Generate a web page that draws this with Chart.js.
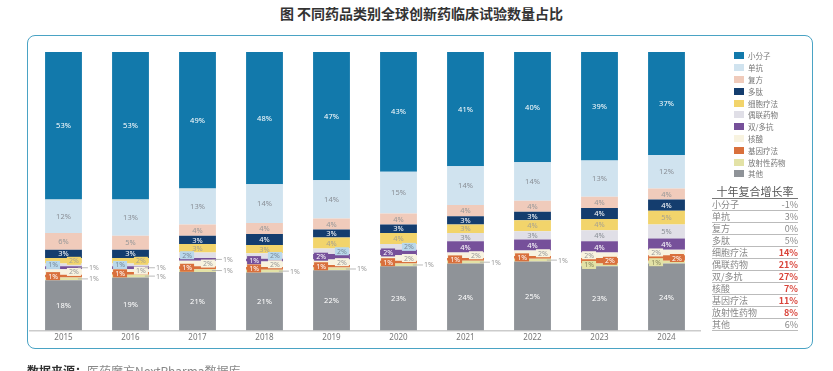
<!DOCTYPE html>
<html>
<head>
<meta charset="utf-8">
<script src="https://cdn.jsdelivr.net/npm/chart.js@4/dist/chart.umd.min.js"></script>
<style>
  html, body { margin: 0; padding: 0; background: #fff; }
  body { font-family: "Noto Sans CJK SC", "Noto Sans", sans-serif; }
  #wrap { position: relative; width: 833px; height: 371px; overflow: hidden; }
  #title { position: absolute; left: 0; top: 3px; width: 843px; text-align: center;
           font-size: 14px; font-weight: bold; color: #333; }
  #frame { position: absolute; left: 27px; top: 35px; width: 786px; height: 314px;
           border: 1.5px solid #4aa3c4; border-radius: 8px; box-sizing: border-box; }
  #chartBox { position: absolute; left: 0; top: 0; width: 833px; height: 371px; }
  #legend { position: absolute; left: 734px; top: 50px; }
  .lg-row { height: 11.8px; display: flex; align-items: center; font-size: 7.5px; color: #777; }
  .lg-sw { width: 10px; height: 7px; margin-right: 4px; }
  #cagr { position: absolute; left: 712px; top: 185px; width: 86px; border-collapse: collapse; }
  #cagr th { font-size: 11px; font-weight: normal; color: #555; padding: 0; line-height: 13px;
             border-bottom: 1.5px solid #777; }
  #cagr td { font-size: 9px; color: #888; padding: 0; line-height: 11px;
             border-bottom: 1px solid #bbb; }
  #cagr td.v { text-align: right; }
  #cagr td.hot { color: #d9443a; font-weight: bold; }
  #source { position: absolute; left: 27px; top: 362px; font-size: 12px; color: #888; white-space: nowrap; }
  #source b { color: #333; }
</style>
</head>
<body>
<div id="wrap">
  <div id="title">图 不同药品类别全球创新药临床试验数量占比</div>
  <div id="frame"></div>
  <div id="chartBox"><canvas id="chart"></canvas></div>
  <div id="legend"></div>
  <table id="cagr"></table>
  <div id="source"><b>数据来源：</b>医药魔方NextPharma数据库</div>
</div>
<script>
// Years on the x axis
const years = ['2015', '2016', '2017', '2018', '2019', '2020', '2021', '2022', '2023', '2024'];

// Share of trials (%) per drug class
const smallMolecule = [53, 53, 49, 48, 47, 43, 41, 40, 39, 37];
const antibody      = [12, 13, 13, 14, 14, 15, 14, 14, 13, 12];
const combination   = [6, 5, 4, 4, 4, 4, 4, 4, 4, 4];
const peptide       = [3, 3, 3, 4, 3, 3, 3, 3, 4, 4];
const cellTherapy   = [2, 2, 3, 3, 4, 4, 3, 4, 4, 5];
const conjugate     = [1, 1, 2, 2, 2, 2, 3, 3, 4, 5];
const bispecific    = [1, 1, 1, 1, 2, 2, 4, 4, 4, 4];
const nucleicAcid   = [2, 1, 2, 2, 2, 2, 2, 2, 2, 2];
const geneTherapy   = [1, 1, 1, 1, 1, 1, 1, 1, 2, 2];
const radioDrug     = [1, 1, 1, 1, 1, 1, 1, 1, 1, 1];
const others        = [18, 19, 21, 21, 22, 23, 24, 25, 23, 24];

// Ten-year compound growth table
const cagrLabels = ['小分子', '单抗', '复方', '多肽', '细胞疗法', '偶联药物', '双/多抗', '核酸', '基因疗法', '放射性药物', '其他'];
const cagrValues = [-1, 3, 0, 5, 14, 21, 27, 7, 11, 8, 6];

// Stack order bottom -> top
const series = [
  {name: '其他',       values: others,        color: '#8f9398', text: '#fff'},
  {name: '放射性药物', values: radioDrug,     color: '#e3e2a6', text: '#8a8a60'},
  {name: '基因疗法',   values: geneTherapy,   color: '#d9703c', text: '#fff'},
  {name: '核酸',       values: nucleicAcid,   color: '#f8f3e0', text: '#999'},
  {name: '双/多抗',    values: bispecific,    color: '#76509a', text: '#fff'},
  {name: '偶联药物',   values: conjugate,     color: '#e0dfe7', text: '#8a8f96', box: '#b9d8eb'},
  {name: '细胞疗法',   values: cellTherapy,   color: '#f2d46b', text: '#a8a290'},
  {name: '多肽',       values: peptide,       color: '#143d6e', text: '#fff'},
  {name: '复方',       values: combination,   color: '#f0cbbb', text: '#999'},
  {name: '单抗',       values: antibody,      color: '#d0e3ef', text: '#8a8f96'},
  {name: '小分子',     values: smallMolecule, color: '#1279ab', text: '#fff'}
];

// column totals so each bar fills the full height
const totals = years.map((y, i) => series.reduce((s, d) => s + d.values[i], 0));

// Legend (top -> bottom is reverse of the stack)
const legend = document.getElementById('legend');
series.slice().reverse().forEach(s => {
  const row = document.createElement('div');
  row.className = 'lg-row';
  row.innerHTML = '<span class="lg-sw" style="background:' + s.color + '"></span>' + s.name;
  legend.appendChild(row);
});

// CAGR table
const table = document.getElementById('cagr');
let html = '<tr><th colspan="2">十年复合增长率</th></tr>';
cagrLabels.forEach((lab, i) => {
  const v = cagrValues[i];
  html += '<tr><td>' + lab + '</td><td class="v' + (v >= 7 ? ' hot' : '') + '">' + v + '%</td></tr>';
});
table.innerHTML = html;

// Draws the percent labels: inside, boxed beside small slices, or outside with a lead line
const barLabels = {
  id: 'barLabels',
  afterDatasetsDraw(chart) {
    const ctx = chart.ctx;
    ctx.save();
    ctx.textBaseline = 'middle';
    years.forEach((yr, i) => {
      let side = 0;
      series.forEach((s, d) => {
        const v = s.values[i];
        const el = chart.getDatasetMeta(d).data[i];
        const p = el.getProps(['x', 'y', 'base', 'width'], true);
        const cy = (p.y + p.base) / 2;
        const left = p.x - p.width / 2;
        const right = p.x + p.width / 2;
        const txt = v + '%';
        if (v >= 3) {
          ctx.font = '7.5px "Noto Sans", sans-serif';
          ctx.fillStyle = s.text;
          ctx.textAlign = 'center';
          ctx.fillText(txt, p.x, cy + 0.5);
          return;
        }
        const outside = (s.name === '放射性药物' && v === 1 && geneTherapy[i] === 1) ||
                        (s.name === '双/多抗' && v === 1 && conjugate[i] + cellTherapy[i] <= 5 && peptide[i] < 4);
        ctx.font = '7px "Noto Sans", sans-serif';
        if (outside) {
          ctx.strokeStyle = '#aaa';
          ctx.lineWidth = 0.8;
          ctx.beginPath();
          ctx.moveTo(right - 4, cy);
          ctx.lineTo(right + 6, cy);
          ctx.stroke();
          ctx.fillStyle = '#999';
          ctx.textAlign = 'left';
          ctx.fillText(txt, right + 7, cy + 0.5);
          return;
        }
        const bw = 14, bh = 8;
        const bx = side === 0 ? left + 1 : right - bw - 1;
        ctx.fillStyle = s.box || s.color;
        ctx.fillRect(bx, cy - bh / 2, bw, bh);
        ctx.fillStyle = s.box ? '#7a8a99' : s.text;
        ctx.textAlign = 'center';
        ctx.fillText(txt, bx + bw / 2, cy + 0.5);
        side ^= 1;
      });
    });
    ctx.restore();
  }
};

new Chart(document.getElementById('chart'), {
  type: 'bar',
  data: {
    labels: years,
    datasets: series.map(s => ({
      label: s.name,
      data: s.values.map((v, i) => v / totals[i] * 100),
      backgroundColor: s.color,
      borderWidth: 0,
      categoryPercentage: 1,
      barPercentage: 0.55
    }))
  },
  options: {
    responsive: true,
    maintainAspectRatio: false,
    animation: false,
    layout: { padding: { left: 30, right: 133, top: 52, bottom: 25 } },
    plugins: { legend: { display: false }, tooltip: { enabled: false } },
    scales: {
      x: {
        stacked: true,
        grid: { display: false, drawTicks: false },
        border: { display: true, color: '#ccc', width: 1.5 },
        ticks: { color: '#777', font: { size: 8, family: 'Noto Sans' }, padding: 3 }
      },
      y: { stacked: true, display: false, min: 0, max: 100 }
    }
  },
  plugins: [barLabels]
});
</script>
</body>
</html>
